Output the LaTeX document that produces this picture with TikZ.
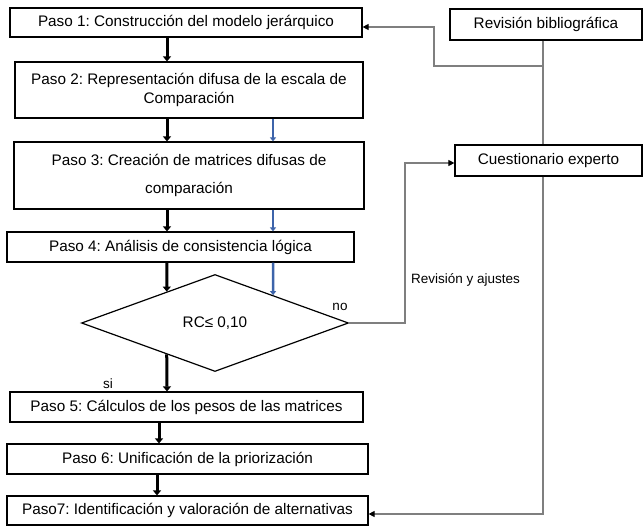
\documentclass[tikz,border=0pt]{standalone}
\usepackage{fontspec}
\setmainfont{Liberation Sans}
\usetikzlibrary{shapes.geometric,arrows.meta,calc}
\definecolor{azul}{HTML}{3D64AA}
\definecolor{gris}{HTML}{7F7F7F}
\frenchspacing

\begin{document}
\begin{tikzpicture}[x=1pt, y=-1pt,
		paso/.style = {draw, line width=1.2pt, inner sep=0pt, align=center, font=\fontsize{15.3}{18.5}\selectfont},
		rombo/.style = {paso, diamond, minimum width=267, minimum height=97},
		etiqueta/.style = {inner sep=0pt, font=\fontsize{13.5}{16}\selectfont},
		flecha/.style = {line width=3pt, -{Triangle[length=5pt, width=8pt]}},
		flechaazul/.style = {draw=azul, line width=2.5pt, -{Triangle[length=4pt, width=6pt]}},
		conector/.style = {draw=gris, line width=1.1pt, -{Triangle[length=6pt, width=6pt, color=black]}},
		linea/.style = {draw=gris, line width=1.1pt}]
		\useasboundingbox (0,0) rectangle (644,526);
		\node[paso, minimum width=352, minimum height=29] (p1) at (186,22.5) {Paso 1: Construcción del modelo jerárquico};
		\node[paso, minimum width=348, minimum height=56] (p2) at (189,90) {Paso 2: Representación difusa de la escala de\\Comparación};
		\node[paso, minimum width=350, minimum height=67] (p3) at (189,175.5) {Paso 3: Creación de matrices difusas de\\[9.5pt]comparación};
		\node[paso, minimum width=347, minimum height=30] (p4) at (180.5,247) {Paso 4: Análisis de consistencia lógica};
		\node[rombo] (rc) at (215,323) {RC≤ 0,10};
		\node[paso, minimum width=353, minimum height=30] (p5) at (186.5,407) {Paso 5: Cálculos de los pesos de las matrices};
		\node[paso, minimum width=361, minimum height=30] (p6) at (187.5,459) {Paso 6: Unificación de la priorización};
		\node[paso, minimum width=361, minimum height=29] (p7) at (187.5,510.5) {Paso7: Identificación y valoración de alternativas};
		\node[paso, minimum width=192, minimum height=31] (rev) at (546,24.5) {Revisión bibliográfica};
		\node[paso, minimum width=187, minimum height=31] (cuest) at (548.5,160.5) {Cuestionario experto};
		\node[etiqueta] (no) at (340,307) {no};
		\node[etiqueta] (si) at (108,384) {si};
		\node[etiqueta, anchor=west] (ajustes) at (411,280) {Revisión y ajustes};
		\coordinate (e1) at (167,0);
		\coordinate (e2) at (159,0);
		\coordinate (e3) at (157,0);
		\coordinate (az) at (273,0);
		\coordinate (v) at (543,0);
		\coordinate (r1) at (434,66);
		\coordinate (r2) at (405,163);
		\draw[flecha] (p1.south -| e1) -- (p2.north -| e1);
		\draw[flecha] (p2.south -| e1) -- (p3.north -| e1);
		\draw[flecha] (p3.south -| e1) -- (p4.north -| e1);
		\draw[flecha] (p4.south -| e1) -- ($(rc.west)!0.64!(rc.north)$);
		\draw[flecha] ($(rc.west)!0.64!(rc.south)$) -- (p5.north -| e1);
		\draw[flecha] (p5.south -| e2) -- (p6.north -| e2);
		\draw[flecha] (p6.south -| e3) -- (p7.north -| e3);
		\draw[flechaazul] (p2.south -| az) -- (p3.north -| az);
		\draw[flechaazul] (p3.south -| az) -- (p4.north -| az);
		\draw[flechaazul] (p4.south -| az) -- ($(rc.north)!0.433!(rc.east)$);
		\draw[linea] (rev.south -| v) -- (cuest.north -| v);
		\draw[conector] (v |- r1) -- (r1) |- ([yshift=-4.5pt]p1.east);
		\draw[conector] (rc.east) -| (r2) -- (cuest.west |- r2);
		\draw[conector] (cuest.south -| v) |- ([yshift=-3.5pt]p7.east);
	\end{tikzpicture}
\end{document}
